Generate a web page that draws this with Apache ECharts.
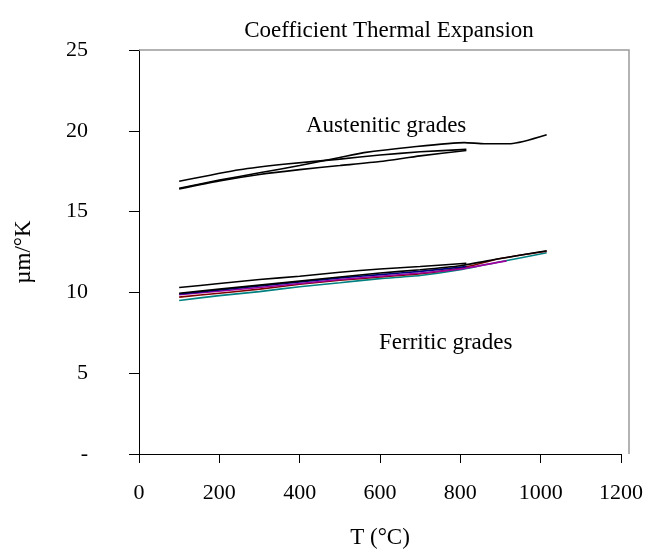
<!DOCTYPE html>
<html>
<head>
<meta charset="utf-8">
<script src="https://cdn.jsdelivr.net/npm/echarts@6/dist/echarts.min.js"></script>
<style>
  html, body { margin: 0; padding: 0; background: #fff; }
  #chart { width: 654px; height: 550px; }
</style>
</head>
<body>
<div id="chart"></div>
<script>
// values, [T (°C), µm/°K]
const austenitic1 = [[100, 16.45], [200, 16.95], [300, 17.4], [400, 17.85], [500, 18.35], [560, 18.65], [680, 19.0], [810, 19.27], [860, 19.2], [925, 19.2], [1015, 19.75]];
const austenitic2 = [[100, 16.88], [250, 17.59], [360, 17.93], [500, 18.25], [600, 18.5], [700, 18.7], [815, 18.85]];
const austenitic3 = [[100, 16.4], [200, 16.9], [300, 17.3], [400, 17.6], [500, 17.85], [600, 18.1], [700, 18.45], [815, 18.78]];

const ferritic1 = [[100, 10.3], [200, 10.55], [300, 10.8], [400, 11.0], [500, 11.25], [600, 11.45], [700, 11.6], [815, 11.8]];
const ferritic2 = [[100, 9.95], [200, 10.2], [300, 10.45], [400, 10.7], [500, 10.95], [600, 11.2], [700, 11.4], [800, 11.65], [900, 12.1], [1015, 12.58]];
const ferritic3 = [[100, 9.9], [200, 10.15], [300, 10.4], [400, 10.65], [500, 10.9], [600, 11.1], [700, 11.3], [815, 11.6]];
const ferritic4 = [[100, 9.85], [300, 10.3], [500, 10.8], [700, 11.2], [800, 11.45], [915, 11.95]];
const ferritic5 = [[100, 9.71], [200, 9.95], [300, 10.2], [400, 10.5], [500, 10.75], [600, 10.95], [700, 11.15], [800, 11.5], [900, 12.1], [1015, 12.55]];
const ferritic6 = [[100, 9.5], [200, 9.8], [300, 10.05], [400, 10.35], [500, 10.6], [600, 10.85], [700, 11.05], [800, 11.4], [900, 11.9], [1015, 12.45]];

const yTicks = { 0: "-", 5: "5", 10: "10", 15: "15", 20: "20", 25: "25" };

const font = "'Liberation Serif', 'Times New Roman', serif";

const makeLine = (name, data, color) => ({
  name: name,
  type: "line",
  data: data,
  showSymbol: false,
  smooth: 0.2,
  lineStyle: { color: color, width: 1.6 },
  emphasis: { disabled: true },
  z: 3,
});

const myChart = echarts.init(document.getElementById("chart"));
const option = {
  animation: false,
  title: {
    text: "Coefficient Thermal Expansion",
    left: 384,
    textAlign: "center",
    top: 14,
    textStyle: { fontFamily: font, fontSize: 23, fontWeight: "normal", color: "#000" },
  },
  grid: { left: 139, right: 33, top: 50, bottom: 96, outerBoundsMode: "none", containLabel: false },
  xAxis: {
    type: "value",
    min: 0,
    max: 1200,
    interval: 200,
    name: "T (°C)",
    nameLocation: "middle",
    nameGap: 72,
    nameTextStyle: { fontFamily: font, fontSize: 23, color: "#000" },
    axisLine: { lineStyle: { color: "#000", width: 1 } },
    axisTick: { inside: false, length: 9, lineStyle: { color: "#000" } },
    axisLabel: {
      fontFamily: font,
      fontSize: 22,
      color: "#000",
      margin: 28,
      formatter: (v) => String(v),
    },
    splitLine: { show: false },
  },
  yAxis: {
    type: "value",
    min: 0,
    max: 25,
    interval: 5,
    name: "µm/°K",
    nameLocation: "middle",
    nameRotate: 90,
    nameGap: 104,
    nameTextStyle: { fontFamily: font, fontSize: 23, color: "#000" },
    axisLine: { show: true, lineStyle: { color: "#000", width: 1 } },
    axisTick: { show: true, length: 10, lineStyle: { color: "#000" } },
    axisLabel: {
      fontFamily: font,
      fontSize: 22,
      color: "#000",
      margin: 51,
      formatter: (v) => yTicks[v],
    },
    splitLine: { show: false },
  },
  graphic: [
    {
      type: "polyline",
      shape: { points: [[139, 50], [629, 50], [629, 454]] },
      style: { stroke: "#9a9a9a", lineWidth: 1.5, fill: null },
      z: 1,
    },
    {
      type: "text",
      left: 306,
      top: 114,
      style: { text: "Austenitic grades", font: "23px " + font, fill: "#000" },
    },
    {
      type: "text",
      left: 379,
      top: 331,
      style: { text: "Ferritic grades", font: "23px " + font, fill: "#000" },
    },
  ],
  series: [
    makeLine("A1", austenitic1, "#000"),
    makeLine("A2", austenitic2, "#000"),
    makeLine("A3", austenitic3, "#000"),
    makeLine("F6", ferritic6, "#008080"),
    makeLine("F5", ferritic5, "#800000"),
    makeLine("F4", ferritic4, "#a000a0"),
    makeLine("F3", ferritic3, "#000080"),
    makeLine("F2", ferritic2, "#000"),
    makeLine("F1", ferritic1, "#000"),
  ],
};
myChart.setOption(option);
</script>
</body>
</html>
